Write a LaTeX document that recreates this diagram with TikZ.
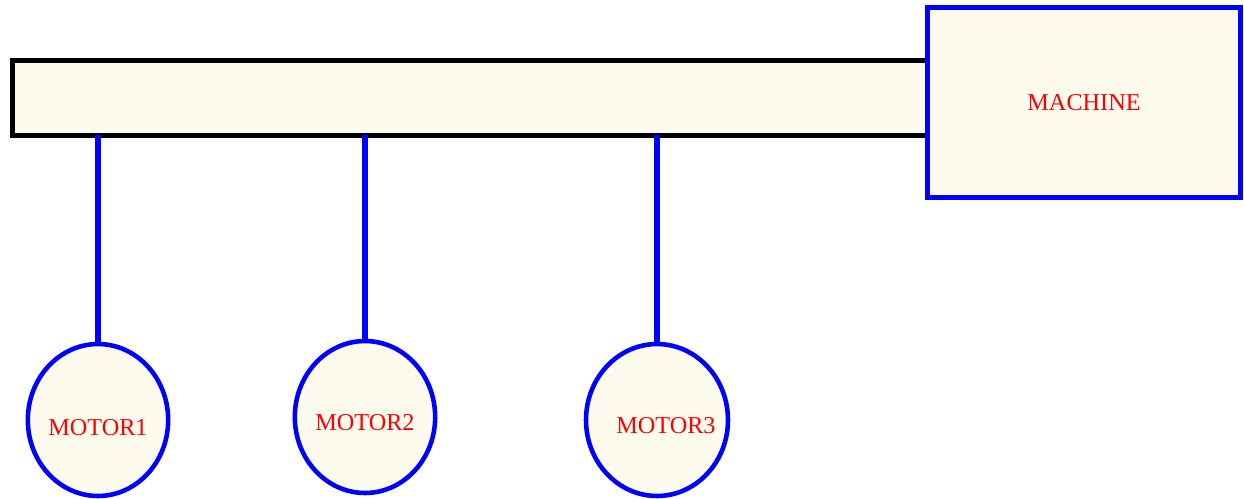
\documentclass[tikz,border=0pt]{standalone}
\usepackage{fontspec}
\setmainfont{Liberation Serif}
\usetikzlibrary{shapes.geometric}
\definecolor{cream}{HTML}{FDFAEE}
\begin{document}
\begin{tikzpicture}[x=0.02cm, y=-0.02cm, every node/.style={font=\fontsize{13.8}{16}\selectfont, text=red}]
  \tikzstyle{shaft}=[draw=black,fill=cream,line width=3.1pt,inner sep=0pt,outer sep=0pt]
  \tikzstyle{mach}=[draw=blue,fill=cream,line width=3.1pt,inner sep=0pt,outer sep=0pt]
  \tikzstyle{motor}=[ellipse,draw=blue,fill=cream,line width=2.6pt,inner sep=0pt,outer sep=0pt,minimum height=3.04cm]
  \tikzstyle{link}=[draw=blue,line width=3.2pt]
  \useasboundingbox (0,0) rectangle (1244,498);
  % shaft and machine
  \node[shaft,minimum width=18.3cm,minimum height=1.5cm] (bar) at (470,98) {};
  \node[mach,minimum width=6.26cm,minimum height=3.8cm] (machine) at (1084,102.5) {MACHINE};
  % motors
  \node[motor,minimum width=2.76cm] (m1) at (98,420) {\raisebox{-0.30cm}[0pt][0pt]{MOTOR1}};
  \node[motor,minimum width=2.78cm] (m2) at (365,417) {\raisebox{-0.26cm}[0pt][0pt]{MOTOR2}};
  \node[motor,minimum width=2.84cm] (m3) at (657,420) {\raisebox{-0.26cm}[0pt][0pt]{\makebox[0pt]{\hspace*{0.36cm}MOTOR3}}};
  \draw[link] (bar.south -| m1.north) -- (m1.north);
  \draw[link] (bar.south -| m2.north) -- (m2.north);
  \draw[link] (bar.south -| m3.north) -- (m3.north);
\end{tikzpicture}
\end{document}
